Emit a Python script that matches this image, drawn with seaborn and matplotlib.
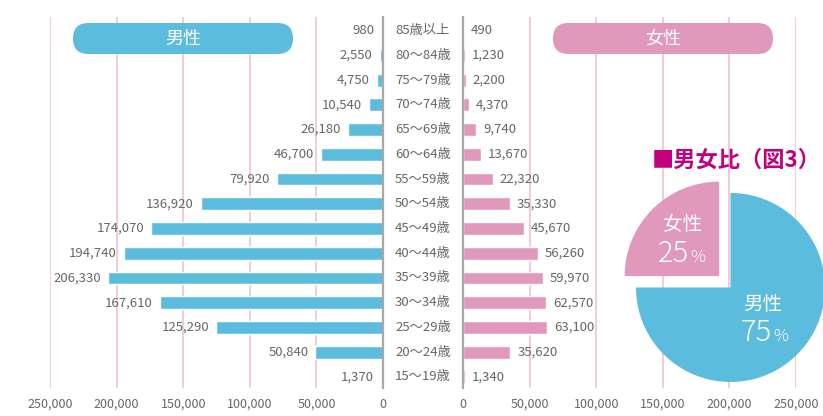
import matplotlib
matplotlib.use("Agg")
import matplotlib.pyplot as plt
import matplotlib.transforms as mtransforms
from matplotlib.patches import FancyBboxPatch
import seaborn as sns

# data
ages = ['85歳以上', '80〜84歳', '75〜79歳', '70〜74歳', '65〜69歳', '60〜64歳',
        '55〜59歳', '50〜54歳', '45〜49歳', '40〜44歳', '35〜39歳', '30〜34歳',
        '25〜29歳', '20〜24歳', '15〜19歳']
male = [980, 2550, 4750, 10540, 26180, 46700, 79920, 136920, 174070,
        194740, 206330, 167610, 125290, 50840, 1370]
female = [490, 1230, 2200, 4370, 9740, 13670, 22320, 35330, 45670,
          56260, 59970, 62570, 63100, 35620, 1340]
xticks = [0, 50000, 100000, 150000, 200000, 250000]
ratio_labels = ['女性', '男性']
ratio = [25, 75]

BLUE = '#5bbcdd'
PINK = '#e098bc'
GRID = '#f2bad5'
GRAY = '#666666'
SPINE = '#a8a8a8'
MAGENTA = '#c2007f'

sns.set_style("white")
plt.rcParams['font.family'] = ['Noto Sans CJK JP', 'DejaVu Sans']

W, H = 823, 416
fig = plt.figure(figsize=(W / 100, H / 100), dpi=100)


def fx(px):
    return px / W


def fy(py):
    return 1 - py / H


top, bottom = 17, 388
axl = fig.add_axes([fx(50), fy(bottom), fx(383 - 50), (bottom - top) / H])
axr = fig.add_axes([fx(463), fy(bottom), fx(796 - 463), (bottom - top) / H])

for ax, vals, col, side, sign in [(axl, male, BLUE, 'right', -1),
                                  (axr, female, PINK, 'left', 1)]:
    sns.barplot(x=vals, y=ages, orient='h', color=col, width=0.52,
                saturation=1, ax=ax)
    ax.set_ylim(14.45, -0.55)
    ax.set_yticks([])
    ax.set_ylabel('')
    ax.set_xticks(xticks)
    ax.set_xticklabels([f'{t:,}' for t in xticks])
    ax.tick_params(axis='x', length=0, pad=7, labelsize=9, labelcolor=GRAY)
    ax.grid(axis='x', color=GRID, lw=1.1)
    ax.set_axisbelow(True)
    for s in ax.spines.values():
        s.set_visible(False)
    ax.spines[side].set_visible(True)
    ax.spines[side].set_color(SPINE)
    ax.spines[side].set_linewidth(1.6)
    # value labels just outside the bar ends
    for i, v in enumerate(vals):
        ax.annotate(f'{v:,}', xy=(v, i), xytext=(sign * 5, 0),
                    textcoords='offset points', va='center',
                    ha='right' if sign < 0 else 'left',
                    fontsize=9.5, color=GRAY, annotation_clip=False)

axl.set_xlim(250000, 0)
axr.set_xlim(0, 250000)

# age labels between the two halves
trans = mtransforms.blended_transform_factory(fig.transFigure, axl.transData)
for i, a in enumerate(ages):
    axl.text(fx(423), i, a, transform=trans, ha='center', va='center',
             fontsize=9.5, color=GRAY, clip_on=False)

# header pills
for x0, label, col in [(73, '男性', BLUE), (553, '女性', PINK)]:
    r = 15.5
    pill = FancyBboxPatch(((x0 + r) / 100, (H - 54 + r) / 100), (220 - 2 * r) / 100, 0,
                          boxstyle=f"round,pad={r / 100}", transform=fig.dpi_scale_trans,
                          fc=col, ec='none', zorder=5)
    fig.patches.append(pill)
    fig.text(fx(x0 + 110), fy(39), label, ha='center', va='center',
             fontsize=13, color='white', zorder=6)

# pie inset
cx, cy, rad = 730.5, 287.5, 94.5
px0, px1, py0, py1 = 605, 823, 135, 395
axp = fig.add_axes([fx(px0), fy(py1), fx(px1 - px0), (py1 - py0) / H], zorder=3)
axp.set_facecolor('white')
axp.pie(ratio, explode=[0.17, 0], startangle=90, counterclock=True,
        colors=[PINK, BLUE], wedgeprops=dict(lw=0))
axp.set_aspect('auto')
axp.set_xlim((px0 - cx) / rad, (px1 - cx) / rad)
axp.set_ylim((cy - py1) / rad, (cy - py0) / rad)
axp.set_xticks([])
axp.set_yticks([])
for s in axp.spines.values():
    s.set_visible(False)

fig.text(fx(652), fy(160), '■男女比（図3）', ha='left', va='center',
         fontsize=16, fontweight='bold', color=MAGENTA, zorder=10)

for (tx, ty), (nx, ny), lab, pct in [((682, 230), (689, 262), ratio_labels[0], ratio[0]),
                                     ((763, 310), (772, 341), ratio_labels[1], ratio[1])]:
    fig.text(fx(tx), fy(ty), lab, ha='center', va='baseline', fontsize=14,
             color='white', zorder=10)
    fig.text(fx(nx), fy(ny), str(pct), ha='right', va='baseline', fontsize=21,
             color='white', zorder=10, fontweight='light')
    fig.text(fx(nx + 1), fy(ny), '%', ha='left', va='baseline', fontsize=12,
             color='white', zorder=10, fontweight='light')

fig.savefig('out.png', dpi=100)
